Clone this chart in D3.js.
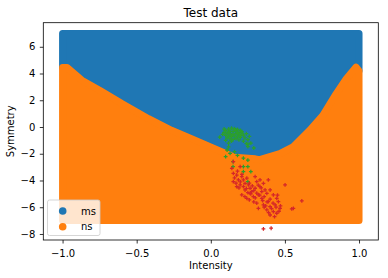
<!DOCTYPE html>
<html>
<head>
  <meta charset="utf-8">
  <title>Test data</title>
  <style>
    body { margin: 0; background: #fff; }
    svg { display: block; font-family: "DejaVu Sans", sans-serif; }
  </style>
</head>
<body>
  <div id="chart"></div>

  <script src="https://d3js.org/d3.v7.min.js"></script>
  <script>
    // boundary between the two dense classes (marker centres)
    const boundaryX = [-1.00, -0.97, -0.87, -0.75, -0.60, -0.42, -0.265, -0.13, 0.03, 0.16, 0.30, 0.33, 0.465, 0.554, 0.667, 0.756, 0.846, 0.914, 0.98, 1.00];
    const boundaryY = [4.45, 4.45, 3.50, 2.75, 1.75, 0.62, -0.25, -0.87, -1.64, -2.26, -2.38, -2.44, -1.99, -1.49, -0.25, 0.87, 2.49, 3.61, 4.48, 4.20];
    const xExtent = [-1, 1];
    const yExtent = [-7, 7];

    // small test points
    const greenPts = [
      [0.10,-0.25],[0.12,-0.15],[0.14,-0.08],[0.16,-0.12],[0.18,-0.18],[0.20,-0.25],[0.13,-0.30],[0.15,-0.35],
      [0.17,-0.28],[0.19,-0.40],[0.21,-0.45],[0.09,-0.40],[0.11,-0.45],[0.13,-0.52],[0.15,-0.55],[0.17,-0.50],
      [0.19,-0.58],[0.22,-0.60],[0.24,-0.50],[0.08,-0.55],[0.10,-0.62],[0.12,-0.68],[0.14,-0.72],[0.16,-0.66],
      [0.18,-0.74],[0.20,-0.78],[0.23,-0.82],[0.11,-0.82],[0.13,-0.88],[0.15,-0.92],[0.17,-0.86],[0.19,-0.96],
      [0.14,-1.05],[0.10,-1.00],[0.26,-0.70],[0.06,-0.75],[0.16,-0.20],[0.12,-0.38],[0.18,-0.45],[0.14,-0.60],
      [0.20,-0.65],[0.25,-0.95],[0.22,-1.05],[0.09,-0.15],[0.21,-0.35],
      [0.27,-1.20],[0.25,-1.28],[0.12,-1.20],[0.11,-1.72],[0.13,-1.97],[0.10,-2.22],[0.22,-2.32],[0.25,-2.47],
      [0.22,-2.97],[0.27,-3.34],[0.22,-3.34],[0.25,-1.47],[0.29,-1.57],[0.16,-1.85],[0.15,-2.59],[0.15,-2.97],
      [0.25,-2.97],[0.25,-4.09],[0.12,-1.49],[0.18,-2.12],[0.24,-1.25]
    ];
    const redPts = [
      [0.152,-2.59],[0.142,-3.09],[0.198,-2.97],[0.152,-3.46],[0.175,-3.59],[0.209,-3.71],[0.186,-3.96],[0.220,-3.96],
      [0.243,-3.83],[0.198,-4.33],[0.231,-4.21],[0.254,-4.33],[0.265,-4.58],[0.231,-4.71],[0.276,-4.84],[0.299,-4.58],
      [0.310,-4.09],[0.332,-3.96],[0.355,-4.21],[0.388,-3.96],[0.287,-5.21],[0.321,-5.08],[0.344,-5.33],[0.378,-4.96],
      [0.400,-4.71],[0.422,-5.08],[0.445,-5.33],[0.388,-5.58],[0.355,-5.83],[0.400,-5.96],[0.434,-5.83],[0.456,-5.58],
      [0.378,-6.20],[0.422,-6.33],[0.400,-6.58],[0.445,-6.45],[0.467,-6.08],[0.501,-4.33],[0.557,-6.08],[0.209,-5.08],
      [0.243,-5.33],[0.265,-4.96],[0.310,-5.70],[0.321,-6.08],[0.175,-4.46],[0.152,-4.09],[0.299,-3.71],[0.332,-4.46],
      [0.366,-4.71],[0.344,-4.84],
      [0.546,-6.13],[0.614,-5.53],[0.355,-7.62],[0.407,-7.57],
      [0.20,-4.10],[0.22,-4.45],[0.24,-4.60],[0.26,-4.20],[0.28,-4.40],[0.25,-4.90],[0.27,-5.00],[0.29,-4.75],
      [0.30,-5.30],[0.33,-5.10],[0.35,-5.50],[0.31,-4.95],[0.34,-4.55],[0.36,-5.20],[0.38,-5.60],[0.40,-5.40],
      [0.42,-5.70],[0.41,-6.10],[0.44,-6.00],[0.37,-5.90],[0.39,-6.40],[0.43,-6.70],[0.46,-6.30],[0.18,-3.30],
      [0.16,-3.80],[0.19,-4.55],[0.23,-5.20],[0.21,-3.55],[0.17,-4.20],[0.32,-4.35],[0.47,-5.90],[0.45,-5.10],
      [0.36,-6.00],[0.29,-5.60],[0.26,-5.45]
    ];

    const xTicks = [-1.0, -0.5, 0.0, 0.5, 1.0];
    const yTicks = [-8, -6, -4, -2, 0, 2, 4, 6];
    const legendLabels = ["ms", "ns"];
    const colors = { ms: "#1f77b4", ns: "#ff7f0e", green: "#2ca02c", red: "#d62728" };

    const W = 388, H = 278;
    const svg = d3.select("#chart").append("svg")
      .attr("width", W).attr("height", H);

    const x = d3.scaleLinear().domain([-1.13, 1.13]).range([43.3, 378.3]);
    const y = d3.scaleLinear().domain([-8.45, 7.8]).range([240, 22.7]);

    svg.append("clipPath").attr("id", "plot")
      .append("rect").attr("x", 43.3).attr("y", 22.7).attr("width", 335).attr("height", 217.3);

    const band = boundaryX.map((v, i) => ({ x: v, b: boundaryY[i] }));

    // dense class regions, stroked to mimic the marker radius
    const upper = d3.area().x(d => x(d.x)).y0(d => y(d.b)).y1(() => y(yExtent[1]));
    const lower = d3.area().x(d => x(d.x)).y0(() => y(yExtent[0])).y1(d => y(d.b));

    const g = svg.append("g").attr("clip-path", "url(#plot)");
    g.append("path").datum(band).attr("d", upper)
      .attr("fill", colors.ms).attr("stroke", colors.ms)
      .attr("stroke-width", 7).attr("stroke-linejoin", "round");
    g.append("path").datum(band).attr("d", lower)
      .attr("fill", colors.ns).attr("stroke", colors.ns)
      .attr("stroke-width", 7).attr("stroke-linejoin", "round");

    const cross = d3.symbol().type(d3.symbolCross).size(8);
    g.selectAll(".gp").data(greenPts).enter().append("path")
      .attr("class", "gp")
      .attr("transform", d => `translate(${x(d[0])},${y(d[1])})`)
      .attr("d", cross).attr("fill", colors.green);
    g.selectAll(".rp").data(redPts).enter().append("path")
      .attr("class", "rp")
      .attr("transform", d => `translate(${x(d[0])},${y(d[1])})`)
      .attr("d", cross).attr("fill", colors.red);

    // axes
    const xAxis = svg.append("g").attr("transform", "translate(0,240)")
      .call(d3.axisBottom(x).tickValues(xTicks).tickFormat(d3.format(".1f")).tickSize(3.5).tickPadding(6));
    const yAxis = svg.append("g").attr("transform", "translate(43.3,0)")
      .call(d3.axisLeft(y).tickValues(yTicks).tickFormat(d3.format("d")).tickSize(3.5).tickPadding(4.5));
    [xAxis, yAxis].forEach(a => {
      a.select(".domain").remove();
      a.selectAll("line").attr("stroke", "#000").attr("stroke-width", 0.8);
      a.selectAll("text").attr("font-size", 10).attr("fill", "#000")
        .attr("font-family", "DejaVu Sans, sans-serif");
    });

    svg.append("rect").attr("x", 43.3).attr("y", 22.7).attr("width", 335).attr("height", 217.3)
      .attr("fill", "none").attr("stroke", "#000").attr("stroke-width", 0.8);

    // titles
    svg.append("text").attr("x", 210.8).attr("y", 17).attr("text-anchor", "middle")
      .attr("font-size", 12).text("Test data");
    svg.append("text").attr("x", 210.8).attr("y", 269).attr("text-anchor", "middle")
      .attr("font-size", 10).text("Intensity");
    svg.append("text").attr("transform", "translate(14,131.3) rotate(-90)")
      .attr("text-anchor", "middle").attr("font-size", 10).text("Symmetry");

    // legend
    const leg = svg.append("g");
    leg.append("rect").attr("x", 47.5).attr("y", 200).attr("width", 52.5).attr("height", 35.5)
      .attr("rx", 2).attr("fill", "#fff").attr("fill-opacity", 0.8)
      .attr("stroke", "#cccccc").attr("stroke-width", 0.8);
    legendLabels.forEach((lab, i) => {
      leg.append("circle").attr("cx", 62.7).attr("cy", 211 + i * 15.7).attr("r", 3.8)
        .attr("fill", colors[lab]);
      leg.append("text").attr("x", 81).attr("y", 214.5 + i * 15.7)
        .attr("font-size", 10).text(lab);
    });
  </script>
</body>
</html>
